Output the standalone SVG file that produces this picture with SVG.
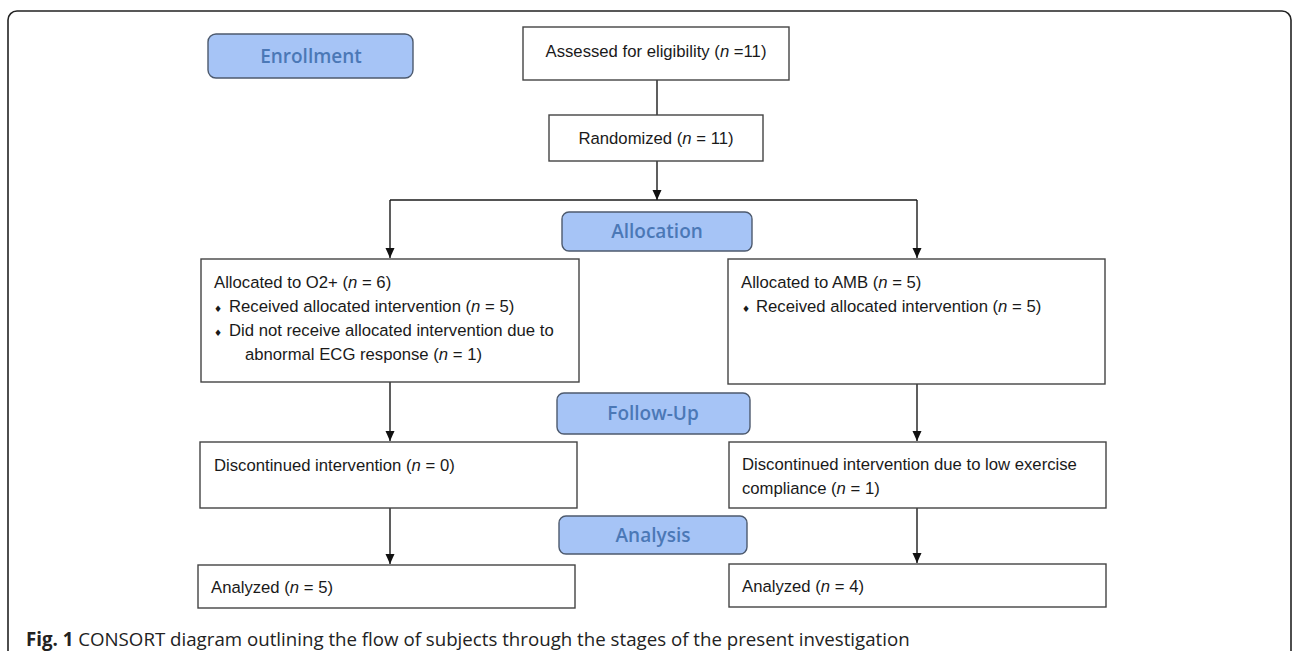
<svg xmlns="http://www.w3.org/2000/svg" width="1292" height="651" viewBox="0 0 1292 651">
<style>
.frame{fill:none;stroke:#222;stroke-width:1.6}
.box{fill:#fff;stroke:#444;stroke-width:1.4}
.phase{fill:#a6c4f6;stroke:#4d5a6e;stroke-width:1.4}
.ptxt{font-family:"Open Sans","Liberation Sans",sans-serif;font-weight:600;font-size:19px;fill:#4b78b6;text-anchor:middle}
.t{font-family:"Liberation Sans",Arial,sans-serif;font-size:16.7px;fill:#1a1a1a}
.c{text-anchor:middle}
.b{font-family:"DejaVu Sans",sans-serif;font-size:9px}
.conn{fill:none;stroke:#1a1a1a;stroke-width:1.4}
.cap{font-family:"Open Sans","Liberation Sans",sans-serif;font-size:18.7px;fill:#222}
</style>
<defs>
<marker id="ah" markerUnits="userSpaceOnUse" markerWidth="10" markerHeight="10" refX="10" refY="5" orient="auto">
<path d="M0,0.5 L10,5 L0,9.5 z" fill="#111"/>
</marker>
</defs>
<rect class="frame" x="8" y="11" width="1283" height="700" rx="9"/>

<g id="connectors">
<line class="conn" x1="657" y1="80" x2="657" y2="115"/>
<line class="conn" x1="657" y1="161" x2="657" y2="200" marker-end="url(#ah)"/>
<line class="conn" x1="390" y1="200" x2="917" y2="200"/>
<line class="conn" x1="390" y1="200" x2="390" y2="258" marker-end="url(#ah)"/>
<line class="conn" x1="917" y1="200" x2="917" y2="258" marker-end="url(#ah)"/>
<line class="conn" x1="390" y1="382" x2="390" y2="441" marker-end="url(#ah)"/>
<line class="conn" x1="917" y1="384" x2="917" y2="441" marker-end="url(#ah)"/>
<line class="conn" x1="390" y1="508" x2="390" y2="564" marker-end="url(#ah)"/>
<line class="conn" x1="917" y1="508" x2="917" y2="563" marker-end="url(#ah)"/>
</g>

<g id="enrollment">
<rect class="phase" x="208" y="34" width="205" height="44" rx="8"/>
<text class="ptxt" x="311" y="63">Enrollment</text>
</g>
<g id="assessed">
<rect class="box" x="523" y="27" width="266" height="53"/>
<text class="t c" x="656" y="57">Assessed for eligibility (<tspan font-style="italic">n</tspan> =11)</text>
</g>
<g id="randomized">
<rect class="box" x="549" y="115" width="214" height="46"/>
<text class="t c" x="656" y="144">Randomized (<tspan font-style="italic">n</tspan> = 11)</text>
</g>
<g id="allocation">
<rect class="phase" x="562" y="212" width="190" height="39" rx="7"/>
<text class="ptxt" x="657" y="238">Allocation</text>
</g>
<g id="alloc-o2">
<rect class="box" x="201" y="259" width="378" height="123"/>
<text class="t" x="214" y="288">Allocated to O2+ (<tspan font-style="italic">n</tspan> = 6)</text>
<text class="t" x="214" y="312"><tspan class="b" x="214">♦</tspan><tspan x="229">Received allocated intervention (</tspan><tspan font-style="italic">n</tspan> = 5)</text>
<text class="t" x="214" y="336"><tspan class="b" x="214">♦</tspan><tspan x="229">Did not receive allocated intervention due to</tspan></text>
<text class="t" x="245" y="360">abnormal ECG response (<tspan font-style="italic">n</tspan> = 1)</text>
</g>
<g id="alloc-amb">
<rect class="box" x="728" y="259" width="377" height="125"/>
<text class="t" x="741" y="288">Allocated to AMB (<tspan font-style="italic">n</tspan> = 5)</text>
<text class="t" x="741" y="312"><tspan class="b" x="742">♦</tspan><tspan x="756">Received allocated intervention (</tspan><tspan font-style="italic">n</tspan> = 5)</text>
</g>
<g id="followup">
<rect class="phase" x="557" y="393" width="193" height="41" rx="7"/>
<text class="ptxt" x="653" y="420">Follow-Up</text>
</g>
<g id="disc-o2">
<rect class="box" x="200" y="442" width="377" height="66"/>
<text class="t" x="214" y="471">Discontinued intervention (<tspan font-style="italic">n</tspan> = 0)</text>
</g>
<g id="disc-amb">
<rect class="box" x="729" y="442" width="377" height="66"/>
<text class="t" x="742" y="470">Discontinued intervention due to low exercise</text>
<text class="t" x="742" y="494">compliance (<tspan font-style="italic">n</tspan> = 1)</text>
</g>
<g id="analysis">
<rect class="phase" x="559" y="516" width="188" height="38" rx="7"/>
<text class="ptxt" x="653" y="542">Analysis</text>
</g>
<g id="analyzed-o2">
<rect class="box" x="198" y="565" width="377" height="43"/>
<text class="t" x="211" y="593">Analyzed (<tspan font-style="italic">n</tspan> = 5)</text>
</g>
<g id="analyzed-amb">
<rect class="box" x="729" y="564" width="377" height="43"/>
<text class="t" x="742" y="592">Analyzed (<tspan font-style="italic">n</tspan> = 4)</text>
</g>
<text class="cap" x="26" y="646"><tspan font-weight="700">Fig. 1</tspan> CONSORT diagram outlining the flow of subjects through the stages of the present investigation</text>
</svg>
